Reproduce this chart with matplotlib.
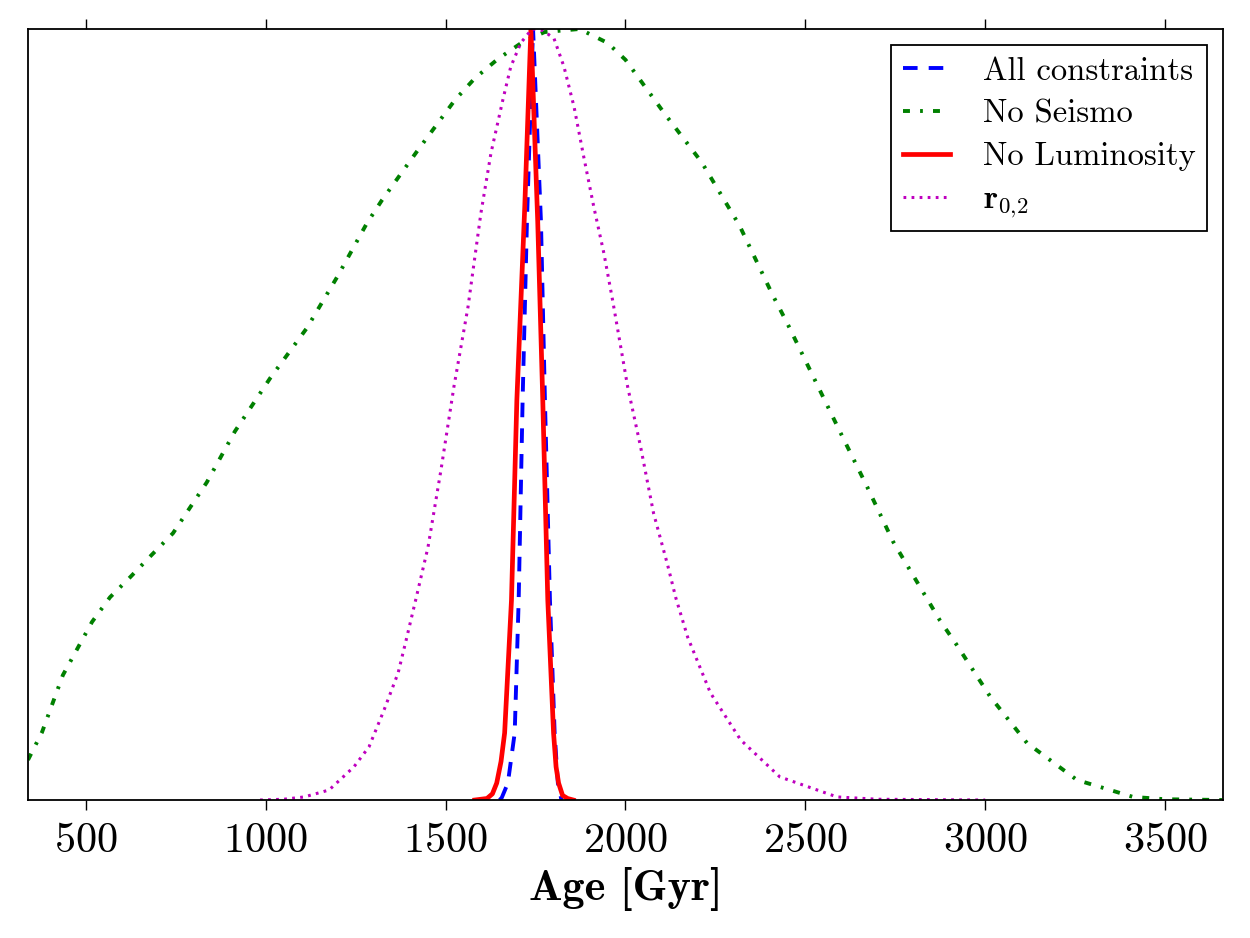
import numpy as np
import matplotlib
matplotlib.use('Agg')
import matplotlib.pyplot as plt

# normalised age posteriors
age_all = [1650, 1656, 1673, 1692, 1703, 1714, 1726, 1743, 1765, 1776, 1790, 1803, 1812, 1822]
pdf_all = [0.0, 0.003, 0.022, 0.087, 0.259, 0.519, 0.75, 1.0, 0.75, 0.519, 0.259, 0.087, 0.022, 0.0]

age_noseis = [339, 378, 436, 517, 567, 623, 683, 742, 836, 914, 1012, 1114, 1198, 1281, 1323,
              1423, 1526, 1581, 1645, 1714, 1775, 1872, 1950, 2000, 2109, 2212, 2317, 2409,
              2449, 2522, 2597, 2672, 2744, 2786, 2874, 2921, 3014, 3116, 3255, 3411, 3500, 3660]
pdf_noseis = [0.052, 0.088, 0.162, 0.231, 0.263, 0.289, 0.318, 0.346, 0.412, 0.478, 0.547, 0.612,
              0.678, 0.748, 0.778, 0.843, 0.908, 0.936, 0.961, 0.983, 0.996, 1.0, 0.982, 0.96,
              0.89, 0.827, 0.745, 0.655, 0.619, 0.549, 0.477, 0.406, 0.335, 0.302, 0.233, 0.201,
              0.134, 0.074, 0.026, 0.004, 0.001, 0.0]

age_nolum = [1581, 1615, 1630, 1642, 1654, 1664, 1683, 1698, 1720, 1737, 1756, 1770, 1784, 1800,
             1807, 1814, 1825, 1839, 1855]
pdf_nolum = [0.0, 0.002, 0.008, 0.022, 0.05, 0.087, 0.259, 0.519, 0.77, 1.0, 0.75, 0.519, 0.259,
             0.087, 0.043, 0.022, 0.006, 0.002, 0.0]

age_r02 = [984, 1050, 1107, 1176, 1245, 1287, 1329, 1368, 1390, 1418, 1451, 1487, 1523, 1562,
           1598, 1626, 1659, 1681, 1709, 1740, 1770, 1801, 1829, 1857, 1884, 1912, 1940, 1965,
           2006, 2042, 2078, 2117, 2140, 2173, 2236, 2320, 2429, 2588, 2700, 3000]
pdf_r02 = [0.0, 0.001, 0.004, 0.013, 0.043, 0.069, 0.117, 0.165, 0.207, 0.262, 0.328, 0.428, 0.536,
           0.639, 0.761, 0.839, 0.908, 0.951, 0.982, 1.0, 0.998, 0.988, 0.951, 0.899, 0.834, 0.769,
           0.709, 0.646, 0.536, 0.458, 0.372, 0.305, 0.262, 0.211, 0.139, 0.078, 0.030, 0.004,
           0.001, 0.0]

labels = ['All constraints', 'No Seismo', 'No Luminosity', r'$\mathbf{r}_{0{,}2}$']

plt.rcParams['font.family'] = 'serif'
plt.rcParams['font.serif'] = ['cmr10']
plt.rcParams['mathtext.fontset'] = 'cm'
plt.rcParams['axes.formatter.use_mathtext'] = True
plt.rcParams['lines.scale_dashes'] = False

fig = plt.figure(figsize=(12.5, 9.38), dpi=100)
ax = fig.add_axes([0.0224, 0.1471, 0.956, 0.822])

ax.plot(age_all, pdf_all, color='b', lw=2.8, ls=(0, (10.5, 8)), label=labels[0])
ax.plot(age_noseis, pdf_noseis, color='g', lw=2.8, ls=(0, (5, 7.3, 2, 7.3)), label=labels[1])
ax.plot(age_nolum, pdf_nolum, color='r', lw=3.4, ls='-', label=labels[2])
ax.plot(age_r02, pdf_r02, color='m', lw=2.2, ls=(0, (2, 3.8)), label=labels[3])

ax.set_xlim(339, 3661)
ax.set_ylim(0, 1.0)
ax.set_yticks([])
ax.set_xticks([500, 1000, 1500, 2000, 2500, 3000, 3500])
ax.tick_params(axis='x', direction='out', top=True, length=7, width=1, labelsize=30.5, pad=9)
for s in ax.spines.values():
    s.set_linewidth(1.3)

ax.set_xlabel('Age [Gyr]', fontsize=32, fontfamily='cmb10', labelpad=5)

leg = ax.legend(loc='upper right', fontsize=23.5, fancybox=False, framealpha=1,
                edgecolor='black', handlelength=1.45, handletextpad=1.0,
                labelspacing=0.42, borderpad=0.35)
leg.get_frame().set_linewidth(1.3)

fig.savefig('out.png', dpi=100)
